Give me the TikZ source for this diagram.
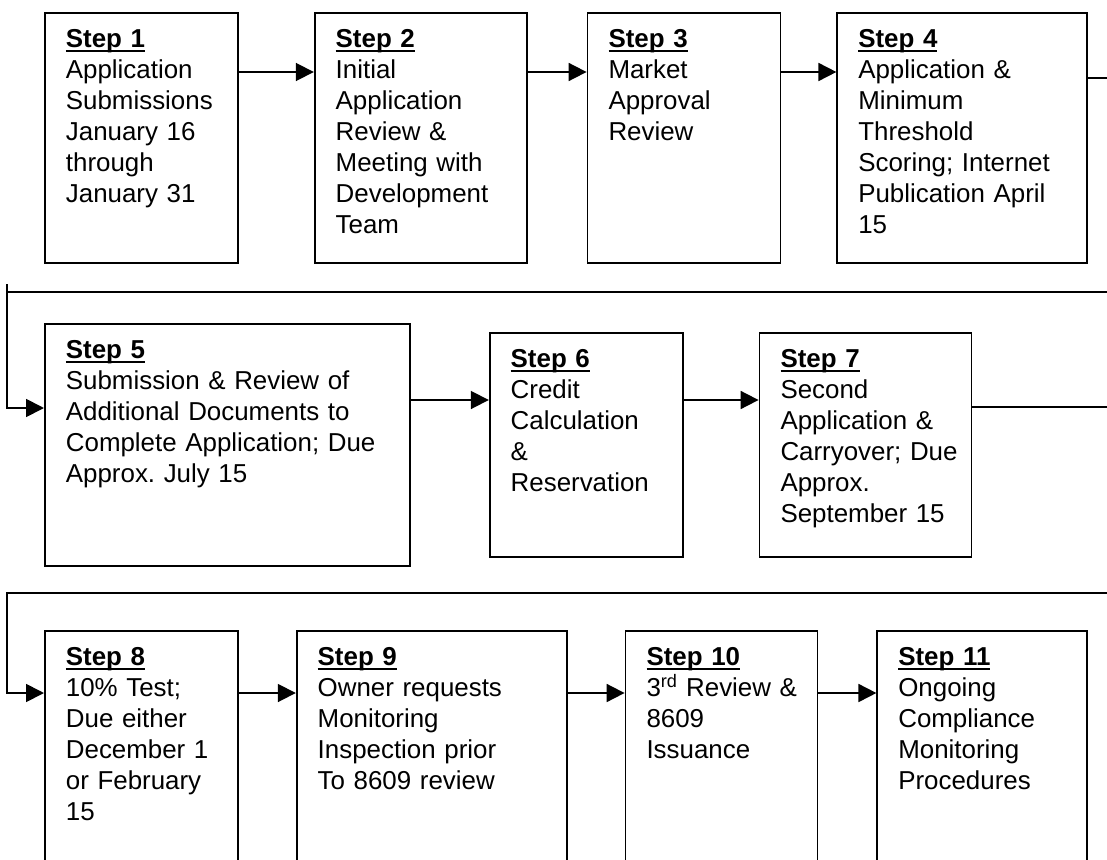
\documentclass[tikz,border=0pt]{standalone}
\usepackage{fontspec}
\setmainfont{Liberation Sans}
\usepackage{tikz}
\usetikzlibrary{positioning, arrows.meta}
\frenchspacing
\newsavebox\ttlbox
\newcommand{\stepttl}[1]{\sbox\ttlbox{\textbf{#1}}\usebox\ttlbox\llap{\rule[-4pt]{\wd\ttlbox}{2.2pt}}}
\tikzset{
  stepbox/.style={rectangle, draw=black, line width=1.8pt, anchor=north west, align=left, inner xsep=21pt, inner ysep=0pt, text height=35pt, font=\fontsize{25.9pt}{31pt}\selectfont},
  wire/.style={line width=1.8pt},
  arrow/.style={line width=1.8pt, -{Triangle[length=18pt, width=18pt]}}
}
\begin{document}
\begin{tikzpicture}[x=1pt, y=-1pt]
            \clip (0,0) rectangle (1107,859);
            % --- Row 1 ---
            \node (s1) [stepbox, text width=151pt, text depth=215pt] at (44,12) {\stepttl{Step 1}\\ Application\\ Submissions\\ January 16\\ through\\ January 31};
            \node (s2) [stepbox, right=75pt of s1, text width=170pt, text depth=215pt] {\stepttl{Step 2}\\ Initial\\ Application\\ Review \&\\ Meeting with\\ Development\\ Team};
            \node (s3) [stepbox, right=59pt of s2, text width=151pt, text depth=215pt] {\stepttl{Step 3}\\ Market\\ Approval\\ Review};
            \node (s4) [stepbox, right=55pt of s3, text width=208pt, text depth=215pt] {\stepttl{Step 4}\\ Application \&\\ Minimum\\ Threshold\\ Scoring; Internet\\ Publication April\\ 15};

            % --- Row 2 ---
            \node (s5) [stepbox, text width=323pt, text depth=207pt] at (44,323) {\stepttl{Step 5}\\ Submission \& Review of\\ Additional Documents to\\ Complete Application; Due\\ Approx. July 15};
            \node (s6) [stepbox, right=78pt of s5, text width=151pt, text depth=189pt] {\stepttl{Step 6}\\ Credit\\ Calculation\\ \&\\ Reservation};
            \node (s7) [stepbox, right=75pt of s6, text width=170pt, text depth=189pt] {\stepttl{Step 7}\\ Second\\ Application \&\\ \mbox{Carryover; Due}\\ Approx.\\ \mbox{September 15}};

            % --- Row 3 ---
            \node (s8) [stepbox, text width=151pt, text depth=225pt] at (44,630) {\stepttl{Step 8}\\ 10\% Test;\\ Due either\\ \mbox{December 1}\\ or February\\ 15};
            \node (s9) [stepbox, right=57pt of s8, text width=228pt, text depth=225pt] {\stepttl{Step 9}\\ Owner requests\\ Monitoring\\ Inspection prior\\ To 8609 review};
            \node (s10) [stepbox, right=57pt of s9, text width=150pt, text depth=225pt] {\stepttl{Step 10}\\ \mbox{3\textsuperscript{rd} Review \&}\\ 8609\\ Issuance};
            \node (s11) [stepbox, right=58pt of s10, text width=168pt, text depth=225pt] {\stepttl{Step 11}\\ Ongoing\\ Compliance\\ Monitoring\\ Procedures};

            \coordinate (turn1) at (7,292);
            \coordinate (turn2) at (7,593);

            % --- Connections ---
            \draw [arrow] ([yshift=-60pt]s1.north east) -- ([yshift=-60pt]s2.north west);
            \draw [arrow] ([yshift=-60pt]s2.north east) -- ([yshift=-60pt]s3.north west);
            \draw [arrow] ([yshift=-60pt]s3.north east) -- ([yshift=-60pt]s4.north west);

            \draw [wire] ([yshift=-66pt]s4.north east) -- ++(60,0) |- (turn1);
            \draw [arrow] ([yshift=8pt]turn1) |- ([yshift=-85pt]s5.north west);

            \draw [arrow] ([yshift=-77pt]s5.north east) -- ([yshift=-68pt]s6.north west);
            \draw [arrow] ([yshift=-68pt]s6.north east) -- ([yshift=-68pt]s7.north west);

            \draw [arrow] ([yshift=-75pt]s7.north east) -- ++(200,0) |- (turn2) |- ([yshift=-63pt]s8.north west);

            \draw [arrow] ([yshift=-63pt]s8.north east) -- ([yshift=-63pt]s9.north west);
            \draw [arrow] ([yshift=-63pt]s9.north east) -- ([yshift=-63pt]s10.north west);
            \draw [arrow] ([yshift=-63pt]s10.north east) -- ([yshift=-63pt]s11.north west);
\end{tikzpicture}
\end{document}
